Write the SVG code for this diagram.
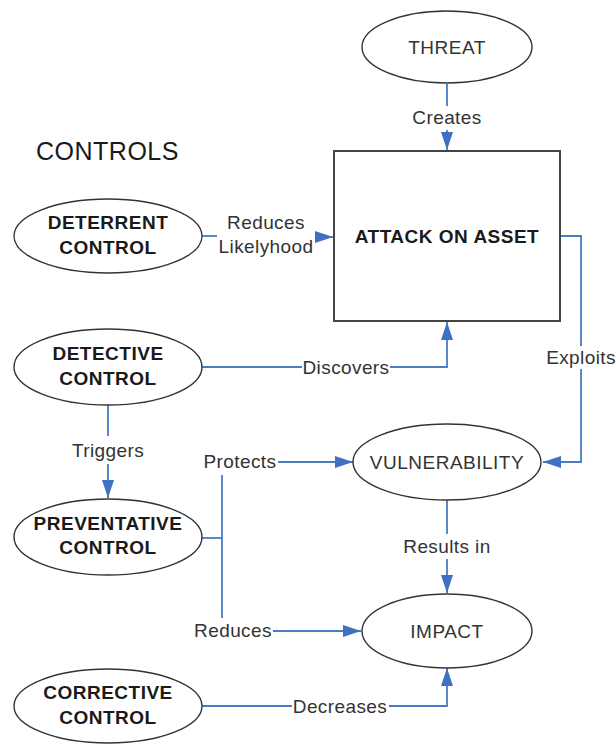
<svg xmlns="http://www.w3.org/2000/svg" width="616" height="745" viewBox="0 0 616 745">
  <style>
    .node { fill: #ffffff; stroke: #333333; stroke-width: 1.4; }
    .box { fill: #ffffff; stroke: #444444; stroke-width: 2; }
    .bold { font-family: "Liberation Sans", Arial, sans-serif; font-weight: bold; font-size: 19px; letter-spacing: 0.5px; fill: #1a1a1a; text-anchor: middle; }
    .plain { font-family: "Liberation Sans", Arial, sans-serif; font-size: 19px; letter-spacing: 0.5px; fill: #333333; text-anchor: middle; }
    .lbl { font-family: "Liberation Sans", Arial, sans-serif; font-size: 19px; letter-spacing: 0.4px; fill: #333333; text-anchor: middle; }
    .title { font-family: "Liberation Sans", Arial, sans-serif; font-size: 25px; letter-spacing: 0.5px; fill: #1a1a1a; }
    .link { fill: none; stroke: #4a7cc4; stroke-width: 1.8; }
  </style>
  <defs>
    <marker id="arrow" viewBox="0 0 18 12" refX="18" refY="6" markerWidth="18" markerHeight="12" markerUnits="userSpaceOnUse" orient="auto">
      <path d="M0,0 L18,6 L0,12 Z" fill="#4070c0"/>
    </marker>
  </defs>

  <rect width="616" height="745" fill="#ffffff"/>

  <text class="title" x="36" y="160">CONTROLS</text>

  <!-- connectors -->
  <g id="connectors">
    <!-- Threat creates attack -->
    <path class="link" d="M447,84 V106"/>
    <path class="link" d="M447,130 V150" marker-end="url(#arrow)"/>
    <text class="lbl" x="447" y="124">Creates</text>

    <!-- Deterrent reduces likelyhood -->
    <path class="link" d="M202,236 H217"/>
    <path class="link" d="M315,237 H333" marker-end="url(#arrow)"/>
    <text class="lbl" x="266" y="229">Reduces</text>
    <text class="lbl" x="266" y="253">Likelyhood</text>

    <!-- Attack exploits vulnerability -->
    <path class="link" d="M561,236 H581 V346"/>
    <path class="link" d="M581,369 V462 H543" marker-end="url(#arrow)"/>
    <text class="lbl" x="581" y="364">Exploits</text>

    <!-- Detective discovers attack -->
    <path class="link" d="M202,367 H302"/>
    <path class="link" d="M390,367 H447 V322" marker-end="url(#arrow)"/>
    <text class="lbl" x="346" y="374">Discovers</text>

    <!-- Detective triggers preventative -->
    <path class="link" d="M108,405 V436"/>
    <path class="link" d="M108,464 V498" marker-end="url(#arrow)"/>
    <text class="lbl" x="108" y="457">Triggers</text>

    <!-- Preventative protects / reduces -->
    <path class="link" d="M202,538 H222"/>
    <path class="link" d="M222,475 V618"/>
    <path class="link" d="M278,462 H353" marker-end="url(#arrow)"/>
    <path class="link" d="M273,631 H361" marker-end="url(#arrow)"/>
    <text class="lbl" x="240" y="468">Protects</text>
    <text class="lbl" x="233" y="637">Reduces</text>

    <!-- Vulnerability results in impact -->
    <path class="link" d="M447,500 V534"/>
    <path class="link" d="M447,559 V593" marker-end="url(#arrow)"/>
    <text class="lbl" x="447" y="553">Results in</text>

    <!-- Corrective decreases impact -->
    <path class="link" d="M202,706 H292"/>
    <path class="link" d="M389,706 H447 V668" marker-end="url(#arrow)"/>
    <text class="lbl" x="340" y="713">Decreases</text>
  </g>

  <g id="threat">
    <ellipse class="node" cx="447" cy="47" rx="85" ry="36"/>
    <text class="plain" x="447" y="54">THREAT</text>
  </g>

  <g id="attack">
    <rect class="box" x="334" y="151" width="226" height="170"/>
    <text class="bold" x="447" y="243">ATTACK ON ASSET</text>
  </g>

  <g id="deterrent">
    <ellipse class="node" cx="108" cy="236" rx="94" ry="37"/>
    <text class="bold" x="108" y="229">DETERRENT</text>
    <text class="bold" x="108" y="254">CONTROL</text>
  </g>

  <g id="detective">
    <ellipse class="node" cx="108" cy="367" rx="94" ry="38"/>
    <text class="bold" x="108" y="360">DETECTIVE</text>
    <text class="bold" x="108" y="385">CONTROL</text>
  </g>

  <g id="preventative">
    <ellipse class="node" cx="108" cy="537" rx="94" ry="38"/>
    <text class="bold" x="108" y="530">PREVENTATIVE</text>
    <text class="bold" x="108" y="554">CONTROL</text>
  </g>

  <g id="corrective">
    <ellipse class="node" cx="108" cy="706" rx="94" ry="37"/>
    <text class="bold" x="108" y="699">CORRECTIVE</text>
    <text class="bold" x="108" y="724">CONTROL</text>
  </g>

  <g id="vulnerability">
    <ellipse class="node" cx="447" cy="462" rx="94" ry="38"/>
    <text class="plain" x="447" y="469">VULNERABILITY</text>
  </g>

  <g id="impact">
    <ellipse class="node" cx="447" cy="631" rx="85" ry="37"/>
    <text class="plain" x="447" y="638">IMPACT</text>
  </g>
</svg>
